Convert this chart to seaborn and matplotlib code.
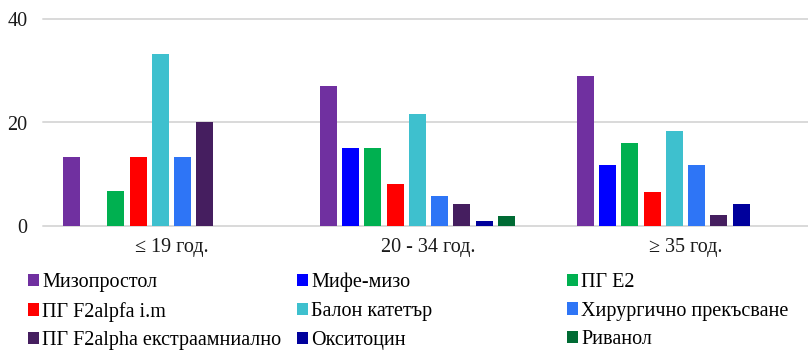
import matplotlib
matplotlib.use("Agg")
import matplotlib.pyplot as plt
from matplotlib.patches import Patch
import pandas as pd
import seaborn as sns

# Age groups (categories on the x axis)
age_groups = ["≤ 19 год.", "20 - 34 год.", "≥ 35 год."]

# Methods (one bar series each)
methods = [
    "Мизопростол",
    "Мифе-мизо",
    "ПГ Е2",
    "ПГ F2alpfa i.m",
    "Балон катетър",
    "Хирургично прекъсване",
    "ПГ F2alpha екстраамниално",
    "Окситоцин",
    "Риванол",
]

# Share (%) per age group, one list per method
misoprostol = [13.3, 27.0, 29.0]
mife_miso = [0.0, 15.0, 11.8]
pg_e2 = [6.7, 15.0, 16.1]
pg_f2a_im = [13.3, 8.1, 6.5]
balloon = [33.3, 21.6, 18.3]
surgical = [13.3, 5.8, 11.8]
pg_f2a_extra = [20.0, 4.2, 2.2]
oxytocin = [0.0, 1.0, 4.3]
rivanol = [0.0, 1.9, 0.0]

series_values = [misoprostol, mife_miso, pg_e2, pg_f2a_im, balloon,
                 surgical, pg_f2a_extra, oxytocin, rivanol]

colors = ["#7030A0", "#0000FF", "#00B050", "#FF0000", "#3EC0CE",
          "#2E75F6", "#451E5F", "#00009C", "#006B34"]

# Long-form table; a trailing blank series keeps the tenth slot of each group
rows = []
for name, vals in zip(methods, series_values):
    for grp, v in zip(age_groups, vals):
        rows.append({"group": grp, "method": name, "value": v})
for grp in age_groups:
    rows.append({"group": grp, "method": " ", "value": 0.0})
df = pd.DataFrame(rows)

sns.set_theme(style="white")
plt.rcParams["font.family"] = ["Liberation Serif", "DejaVu Serif"]

fig = plt.figure(figsize=(8.08, 3.5), dpi=100)
ax = fig.add_axes([43 / 808, 124 / 350, 771 / 808, 207 / 350])

sns.barplot(
    data=df, x="group", y="value", hue="method",
    order=age_groups, hue_order=methods + [" "],
    palette=colors + ["#FFFFFF"], saturation=1,
    width=0.868, gap=0.24, linewidth=0,
    errorbar=None, legend=False, ax=ax,
)

ax.set_xlim(-0.5, 2.5)
ax.set_ylim(0, 40)
ax.set_yticks([0, 20, 40])
ax.set_xlabel("")
ax.set_ylabel("")
ax.yaxis.grid(True, color="#D9D9D9", linewidth=1.4)
ax.set_axisbelow(True)
for gl in ax.get_ygridlines():
    gl.set_clip_on(False)
sns.despine(ax=ax, left=True, bottom=True, top=True, right=True)
ax.tick_params(axis="y", length=0, pad=11, labelsize=14.5, colors="#1A1A1A")
ax.tick_params(axis="x", length=0, pad=8.5, labelsize=14.5, colors="#1A1A1A")

# Legend: three columns placed side by side
handles = [Patch(facecolor=c, edgecolor="none", label=m) for m, c in zip(methods, colors)]
col_x = [28, 297, 567]
for i, x in enumerate(col_x):
    fig.legend(
        handles=handles[i::3], loc="upper left",
        bbox_to_anchor=(x / 808, 1 - 273 / 350), bbox_transform=fig.transFigure,
        frameon=False, borderpad=0, borderaxespad=0,
        handlelength=0.55, handleheight=0.55, handletextpad=0.15,
        labelspacing=0.48, fontsize=14.5, labelcolor="#000000",
    )

fig.savefig("out.png", dpi=100)
